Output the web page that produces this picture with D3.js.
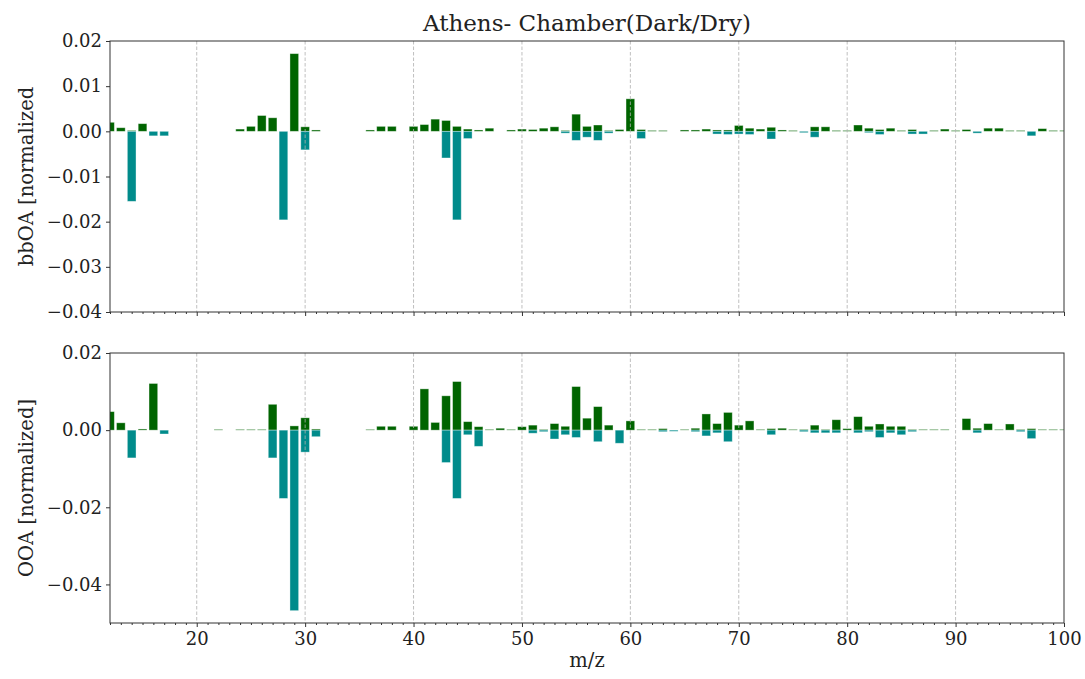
<!DOCTYPE html>
<html>
<head>
<meta charset="utf-8">
<script src="https://cdn.jsdelivr.net/npm/d3@7"></script>
<style>
  body { margin: 0; background: #fff; }
  text { font-family: "DejaVu Serif", serif; fill: #222; }
</style>
</head>
<body>
<div id="chart"></div>
<script>
// m/z 12 .. 100, one entry per unit mass
const massCharge = d3.range(12, 101);

const bbPos = [
  0.002, 0.0008, 0.0002, 0.0017, null, null, null, null, null, null,
  null, null, 0.0005, 0.0011, 0.0035, 0.003, null, 0.0172, 0.001, 0.0003,
  null, null, null, null, 0.0003, 0.0011, 0.0011, null, 0.0011, 0.0015,
  0.0027, 0.0024, 0.0011, 0.0005, 0.0003, 0.0007, null, 0.0003, 0.0005, 0.0004,
  0.0007, 0.001, 0.0002, 0.0038, 0.0011, 0.0014, 0.0002, 0.0004, 0.0072, 0.0004,
  0.0002, 0.0002, null, 0.0003, 0.0003, 0.0005, 0.0003, 0.0003, 0.0013, 0.0007,
  0.0005, 0.0009, 0.0003, 0.0002, null, 0.001, 0.001, 0.0002, 0.0002, 0.0014,
  0.0007, 0.0004, 0.0007, 0.0002, 0.0004, null, 0.0002, 0.0005, 0.0002, 0.0004,
  null, 0.0007, 0.0007, 0.0002, 0.0002, null, 0.0006, 0.0002, 0.0002
];
const bbNeg = [
  null, null, -0.0155, null, -0.001, -0.001, null, null, null, null,
  null, null, null, null, null, null, -0.0196, null, -0.0041, null,
  null, null, null, null, null, null, null, null, null, null,
  null, -0.0059, -0.0196, -0.0016, null, null, null, null, null, null,
  null, null, -0.0004, -0.002, -0.0013, -0.002, -0.0004, null, null, -0.0016,
  null, null, null, null, null, null, -0.0006, -0.0007, -0.0006, -0.0007,
  null, -0.0017, null, null, -0.0003, -0.0013, null, null, null, null,
  -0.0003, -0.0007, null, null, -0.0006, -0.0006, null, null, null, null,
  -0.0004, null, null, null, null, -0.001, null, null, null
];
const ooaPos = [
  0.0048, 0.0019, null, 0.0003, 0.0121, null, null, null, null, null,
  0.0002, null, 0.0002, 0.0002, 0.0002, 0.0067, null, 0.0011, 0.0032, 0.0003,
  null, null, null, null, 0.0002, 0.001, 0.001, null, 0.001, 0.0107,
  0.002, 0.0089, 0.0126, 0.0022, 0.0009, 0.0002, 0.0005, 0.0002, 0.0009, 0.0013,
  0.0002, 0.0017, 0.001, 0.0113, 0.0031, 0.0061, 0.0013, null, 0.0024, 0.0002,
  0.0002, 0.0004, null, 0.0002, 0.0005, 0.0042, 0.0017, 0.0046, 0.0013, 0.0024,
  0.0002, 0.0004, 0.0005, 0.0002, 0.0002, 0.0013, 0.0002, 0.0027, 0.0004, 0.0035,
  0.001, 0.0016, 0.001, 0.001, 0.0002, 0.0002, 0.0002, 0.0002, null, 0.003,
  0.0005, 0.0017, 0.0002, 0.0016, 0.0002, 0.0004, 0.0002, 0.0002, 0.0002
];
const ooaNeg = [
  null, null, -0.0072, null, null, -0.001, null, null, null, null,
  null, null, null, null, null, -0.0072, -0.0177, -0.0468, -0.0057, -0.0017,
  null, null, null, null, null, null, null, null, null, null,
  null, -0.0084, -0.0177, -0.0012, -0.0042, null, null, null, null, -0.0008,
  -0.0004, -0.0023, -0.0012, -0.0019, null, -0.003, null, -0.0034, null, null,
  null, -0.0004, -0.0003, null, -0.0004, -0.0015, -0.0007, -0.003, null, null,
  null, -0.0012, null, null, -0.0004, -0.0007, -0.0007, -0.0007, null, -0.0007,
  -0.0004, -0.0019, -0.0007, -0.0012, -0.0004, null, null, null, null, null,
  -0.0007, null, null, null, -0.0004, -0.0022, null, null, null
];

const bbTicks = [0.02, 0.01, 0, -0.01, -0.02, -0.03, -0.04];
const ooaTicks = [0.02, 0, -0.02, -0.04];
const xTicks = [20, 30, 40, 50, 60, 70, 80, 90, 100];

const width = 1085, height = 679;
const left = 110, right = 1064;
const green = '#006400', teal = '#008b8b';

const svg = d3.select('#chart').append('svg')
    .attr('width', width)
    .attr('height', height);

const x = d3.scaleLinear().domain([12, 100]).range([left, right]);
const barW = x(12.8) - x(12);

svg.append('text')
    .attr('x', (left + right) / 2)
    .attr('y', 31)
    .attr('text-anchor', 'middle')
    .attr('font-size', '23px')
    .text('Athens- Chamber(Dark/Dry)');

function drawPanel(id, top, bottom, yDomain, yTicks, pos, neg, label, showX) {
  const y = d3.scaleLinear().domain(yDomain).range([bottom, top]);
  const g = svg.append('g');

  g.append('clipPath').attr('id', id)
    .append('rect')
    .attr('x', left).attr('y', top)
    .attr('width', right - left).attr('height', bottom - top);

  const bars = g.append('g').attr('clip-path', `url(#${id})`);

  const drawSeries = (values, color) => {
    const data = massCharge.map((m, i) => ({m, v: values[i]})).filter(d => d.v !== null);
    bars.append('g').selectAll('rect')
        .data(data)
        .enter().append('rect')
        .attr('x', d => x(d.m) - barW / 2)
        .attr('width', barW)
        .attr('y', d => Math.min(y(d.v), y(0)))
        .attr('height', d => Math.abs(y(d.v) - y(0)))
        .attr('fill', color)
        .attr('stroke', 'rgba(255,255,255,0.45)')
        .attr('stroke-width', 0.8);
  };
  drawSeries(pos, green);
  drawSeries(neg, teal);

  // vertical dashed grid
  g.append('g').selectAll('line')
      .data(xTicks.filter(t => t < 100))
      .enter().append('line')
      .attr('x1', d => x(d)).attr('x2', d => x(d))
      .attr('y1', top).attr('y2', bottom)
      .attr('stroke', '#b0b0b0')
      .attr('stroke-width', 0.8)
      .attr('stroke-dasharray', '3.5,2');

  // x axis (major + minor)
  const xAxis = g.append('g')
      .attr('transform', `translate(0,${bottom})`)
      .call(d3.axisBottom(x).tickValues(xTicks)
          .tickFormat(showX ? d3.format('d') : '')
          .tickSize(4).tickPadding(5));
  xAxis.selectAll('text').attr('font-size', '18px');
  xAxis.append('g').selectAll('line')
      .data(d3.range(12, 100).filter(v => v % 10 !== 0))
      .enter().append('line')
      .attr('x1', d => x(d) + 0.5).attr('x2', d => x(d) + 0.5)
      .attr('y1', 0).attr('y2', 2)
      .attr('stroke', '#333');

  const yAxis = g.append('g')
      .attr('transform', `translate(${left},0)`)
      .call(d3.axisLeft(y).tickValues(yTicks).tickFormat(d3.format('.2f'))
          .tickSize(4).tickPadding(4));
  yAxis.selectAll('text').attr('font-size', '18px');

  g.selectAll('.domain').remove();
  g.selectAll('.tick line').attr('stroke', '#333');

  g.append('rect')
      .attr('x', left).attr('y', top)
      .attr('width', right - left).attr('height', bottom - top)
      .attr('fill', 'none')
      .attr('stroke', '#333')
      .attr('stroke-width', 1);

  svg.append('text')
      .attr('transform', `translate(33,${(top + bottom) / 2}) rotate(-90)`)
      .attr('text-anchor', 'middle')
      .attr('font-size', '19.5px')
      .text(label);
}

drawPanel('clipTop', 41, 312, [-0.04, 0.02], bbTicks, bbPos, bbNeg, 'bbOA [normalized', false);
drawPanel('clipBottom', 353, 623, [-0.05, 0.02], ooaTicks, ooaPos, ooaNeg, 'OOA [normalized]', true);

svg.append('text')
    .attr('x', (left + right) / 2)
    .attr('y', 667)
    .attr('text-anchor', 'middle')
    .attr('font-size', '19.5px')
    .text('m/z');
</script>
</body>
</html>
